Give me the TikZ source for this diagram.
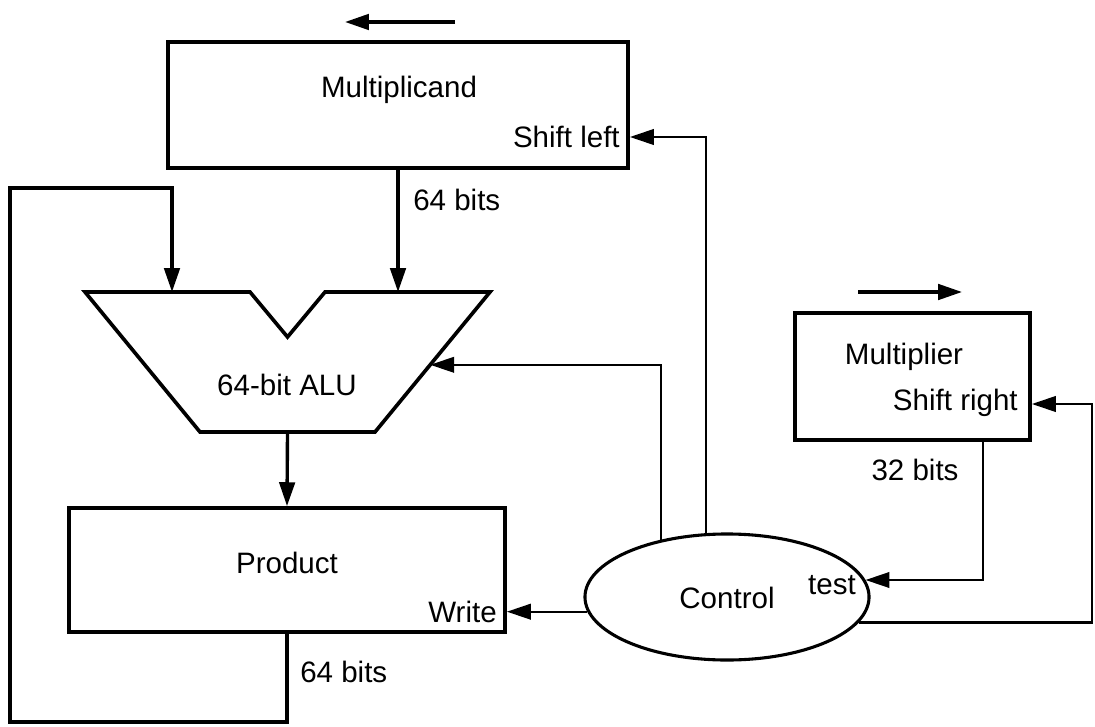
\documentclass[tikz,border=0pt]{standalone}
\usepackage{fontspec}
\setmainfont{Liberation Sans}
\usepackage{tikz}
\usetikzlibrary{arrows.meta,calc,shapes.geometric}

\begin{document}
\begin{tikzpicture}[x=0.025cm,y=-0.025cm,
  reg/.style={rectangle,draw,line width=2.6pt,inner sep=0pt},
  ctl/.style={ellipse,draw,line width=2.2pt,inner sep=0pt,minimum width=7.1cm,minimum height=3.15cm},
  lab/.style={font=\fontsize{21}{25}\selectfont,inner sep=0pt},
  arr/.style={-{Triangle[length=17pt,width=11pt]},line width=2.4pt},
  carr/.style={-{Triangle[length=17pt,width=11pt]},line width=1.7pt}]
\useasboundingbox (0,0) rectangle (1095,727);
\node[reg,minimum width=11.5cm,minimum height=3.15cm] (mcand) at (398,105) {};
\node[reg,minimum width=10.9cm,minimum height=3.1cm] (prod) at (287,570) {};
\node[reg,minimum width=5.875cm,minimum height=3.175cm] (mplier) at (912.5,376.5) {};
\node[ctl] (ctrl) at (727,597) {};
\coordinate (alutl) at (85,292);
\coordinate (alunl) at (250,292);
\coordinate (alunb) at (287.5,337);
\coordinate (alunr) at (325,292);
\coordinate (alutr) at (490,292);
\coordinate (alubr) at (375,432);
\coordinate (alubl) at (200,432);
\draw[line width=2.6pt] (alutl) -- (alunl) -- (alunb) -- (alunr) -- (alutr) -- (alubr) -- (alubl) -- cycle;
\coordinate (aluina) at (172,292);
\coordinate (aluinb) at (398,292);
\coordinate (aluctl) at ($(alutr)!0.52!(alubr)$);
\node[lab] (mcandtxt) at (399,90) {Multiplicand};
\node[lab,anchor=east] (shl) at (620,137) {Shift left};
\node[lab,anchor=west] (bitsa) at (413,200) {64 bits};
\node[lab] (alu) at (287,385) {64-bit ALU};
\node[lab] (prodtxt) at (287,563) {Product};
\node[lab,anchor=east] (wr) at (497,612) {Write};
\node[lab,anchor=west] (bitsb) at (300,672) {64 bits};
\node[lab] (mptxt) at (904,357) {Multiplier};
\node[lab,anchor=east] (shr) at (1018,403) {Shift right};
\node[lab] (bitsc) at (915,470) {32 bits};
\node[lab] (ctrltxt) at (727,598) {Control};
\node[lab] (tst) at (832,585) {test};
\coordinate (la) at (455,22);
\coordinate (lb) at (345,22);
\coordinate (ra) at (858,292);
\coordinate (rb) at (962,292);
\coordinate (loopbl) at (10,722);
\coordinate (looptl) at (10,188);
\coordinate (mpout) at (983,440);
\coordinate (rt) at (1092,404);
\draw[arr] (la) -- (lb);
\draw[arr] (ra) -- (rb);
\draw[arr] (mcand.south) -- (aluinb);
\draw[arr] ($(alubl)!.5!(alubr)$) -- (prod.north);
\draw[arr] (prod.south) |- (loopbl) -- (looptl) -| (aluina);
\draw[carr] (ctrl.186) -- (ctrl.186 -| prod.east);
\draw[carr] (ctrl.139) |- (aluctl);
\draw[carr] (ctrl.108) |- (shl.east -| mcand.east);
\draw[carr] (mpout) |- (ctrl.7);
\draw[carr] (ctrl.349) -| (rt) -- (rt -| mplier.east);
\end{tikzpicture}
\end{document}
